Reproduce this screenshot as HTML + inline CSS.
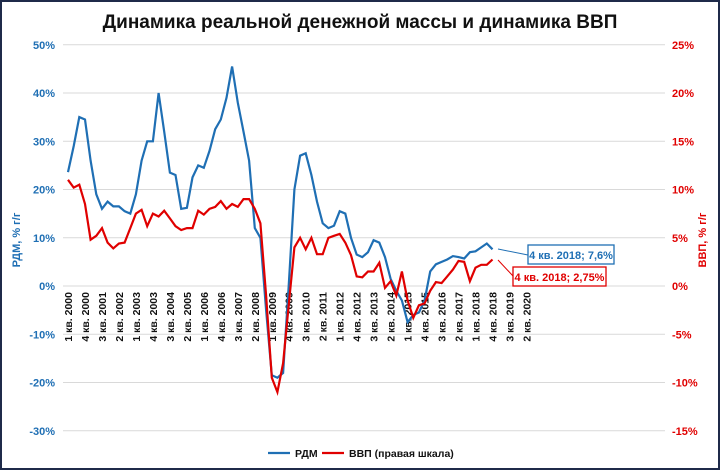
<!DOCTYPE html>
<html><head><meta charset="utf-8"><style>
html,body{margin:0;padding:0;background:#fff}
svg{display:block;font-family:"Liberation Sans","DejaVu Sans",sans-serif}
</style></head><body>
<svg id="s" width="720" height="470" viewBox="0 0 720 470" xmlns="http://www.w3.org/2000/svg">
<rect x="1" y="1" width="718" height="468" fill="#fff" stroke="#1f2a4a" stroke-width="2"/>
<text x="360" y="28" text-anchor="middle" font-size="19" font-weight="bold" fill="#111">Динамика реальной денежной массы и динамика ВВП</text>
<g id="grid" stroke="#d9d9d9" stroke-width="1"></g>
<g id="yl" font-size="11" font-weight="bold" fill="#1f6fb4" text-anchor="end"></g>
<g id="yr" font-size="11" font-weight="bold" fill="#e00000" text-anchor="start"></g>
<g id="xl" font-size="10.5" font-weight="bold" fill="#111"></g>
<text transform="translate(20,240) rotate(-90)" text-anchor="middle" font-size="11" font-weight="bold" fill="#1f6fb4">РДМ, % г/г</text>
<text transform="translate(706,240) rotate(-90)" text-anchor="middle" font-size="11" font-weight="bold" fill="#e00000">ВВП, % г/г</text>
<polyline id="blue" fill="none" stroke="#1f6fb4" stroke-width="2.2"/>
<polyline id="red" fill="none" stroke="#e00000" stroke-width="2.2"/>
<line x1="498" y1="249" x2="528" y2="255" stroke="#1f6fb4" stroke-width="1"/>
<line x1="498" y1="260" x2="513" y2="276" stroke="#e00000" stroke-width="1"/>
<rect x="528" y="245" width="86" height="19" fill="#fff" stroke="#1f6fb4" stroke-width="1.3"/>
<text x="571" y="259" text-anchor="middle" font-size="11" font-weight="bold" fill="#1f6fb4">4 кв. 2018; 7,6%</text>
<rect x="513" y="267" width="93" height="19" fill="#fff" stroke="#e00000" stroke-width="1.3"/>
<text x="559.5" y="281" text-anchor="middle" font-size="11" font-weight="bold" fill="#e00000">4 кв. 2018; 2,75%</text>
<line x1="268" y1="453" x2="290" y2="453" stroke="#1f6fb4" stroke-width="2.2"/>
<text x="295" y="457" font-size="10.5" font-weight="bold" fill="#111">РДМ</text>
<line x1="322" y1="453" x2="344" y2="453" stroke="#e00000" stroke-width="2.2"/>
<text x="349" y="457" font-size="10.5" font-weight="bold" fill="#111">ВВП (правая шкала)</text>
</svg>
<script>
var NS="http://www.w3.org/2000/svg";
function el(t,a,p,txt){var e=document.createElementNS(NS,t);for(var k in a)e.setAttribute(k,a[k]);if(txt!==undefined)e.textContent=txt;document.getElementById(p).appendChild(e);return e;}
for(var v=50;v>=-30;v-=10){var y=286-4.825*v;
 el("line",{x1:63,x2:665,y1:y,y2:y},"grid");
 el("text",{x:55,y:y+4},"yl",v+"%");
 var r=v/2; el("text",{x:672,y:y+4},"yr",r+"%");}
var X=function(q){return 68+5.66*q};
var names=["1","2","3","4"];
for(var q=0;q<=81;q+=3){var yr=2000+Math.floor(q/4),qq=q%4+1;var x=X(q)+4;
 el("text",{transform:"translate("+x+",292) rotate(-90)","text-anchor":"end"},"xl",qq+" кв. "+yr);}
var B=[23.6,29,35,34.5,26,19,16,17.5,16.5,16.5,15.5,15,19,26,30,30,40,32,23.5,23,16,16.2,22.5,25,24.5,28,32.5,34.5,39,45.5,38,32,26,12,10,-5,-18.5,-19,-18,0,20,27,27.5,23,17.5,13,12,12.5,15.5,15,10,6.5,6,7,9.5,9,6,1.5,-1,-3,-7.5,-6,-5.5,-3,3,4.5,5,5.5,6.2,6,5.7,7,7.2,8,8.8,7.6];
var R=[11,10.2,10.5,8.5,4.8,5.2,6,4.5,3.9,4.4,4.5,6,7.5,7.9,6.2,7.5,7.2,7.8,7,6.2,5.8,6,6,7.8,7.4,8,8.2,8.8,8,8.5,8.2,9,9,8,6.5,-1,-9.5,-11,-8,-2,4,5,3.8,5,3.3,3.3,5,5.2,5.4,4.5,3.2,1,0.9,1.5,1.5,2.4,-0.2,0.5,-1,1.5,-1.5,-3.3,-2,-1.8,-0.5,0.4,0.3,1,1.7,2.6,2.5,0.5,1.9,2.2,2.2,2.75];
document.getElementById("blue").setAttribute("points",B.map(function(v,i){return X(i).toFixed(1)+","+(286-4.825*v).toFixed(1)}).join(" "));
document.getElementById("red").setAttribute("points",R.map(function(v,i){return X(i).toFixed(1)+","+(286-9.65*v).toFixed(1)}).join(" "));
</script>
</body></html>
